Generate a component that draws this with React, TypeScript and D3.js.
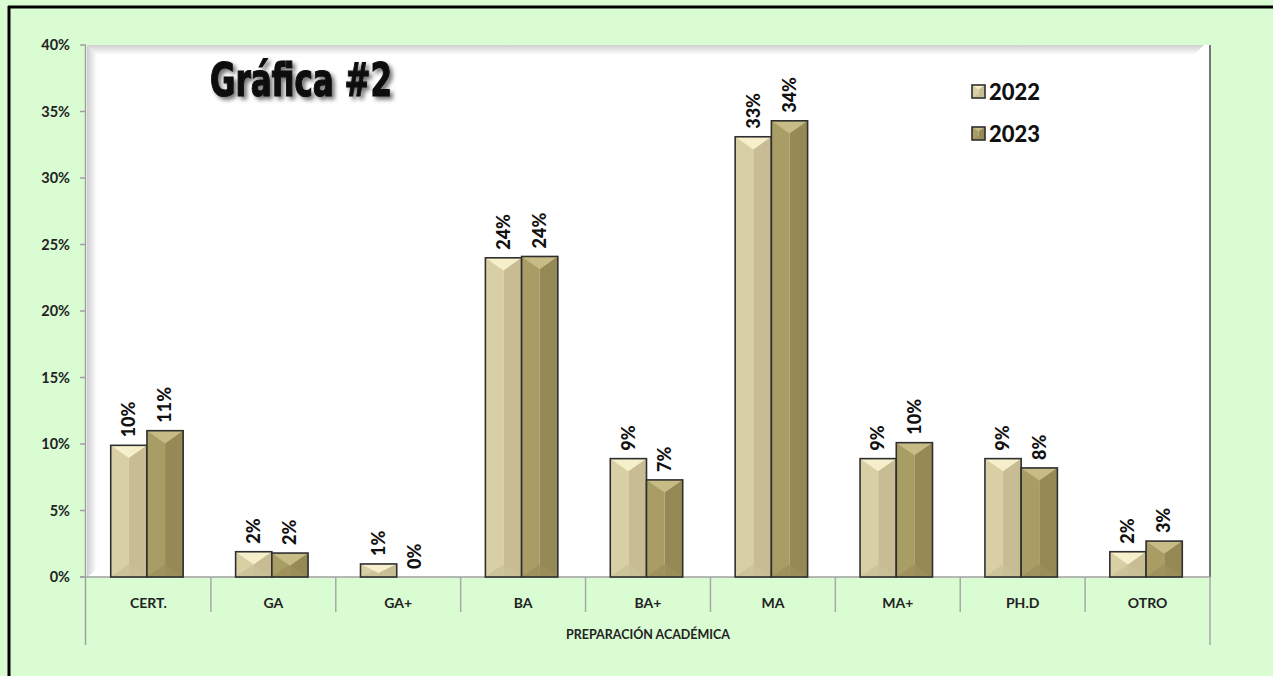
import React from 'react'
import * as d3 from 'd3'

const categories = ['CERT.', 'GA', 'GA+', 'BA', 'BA+', 'MA', 'MA+', 'PH.D', 'OTRO']
const years = ['2022', '2023']
const values2022 = [0.099, 0.019, 0.0098, 0.24, 0.089, 0.331, 0.089, 0.089, 0.019]
const values2023 = [0.11, 0.018, 0, 0.241, 0.073, 0.343, 0.101, 0.082, 0.027]
const yTicks = [0, 0.05, 0.1, 0.15, 0.2, 0.25, 0.3, 0.35, 0.4]
const axisTitle = 'PREPARACIÓN ACADÉMICA'
const chartTitle = 'Gráfica #2'

const W = 1273
const H = 676
const plot = { left: 86, right: 1210, top: 45, bottom: 577 }
const font = 'Lato, "Open Sans", sans-serif'

// colores de cada serie: top, left, right, bottom
const palette: Record<string, { top: string; left: string; right: string; bottom: string }> = {
  '2022': { top: '#f6efcb', left: '#d9cfa4', right: '#c7bc93', bottom: '#cbc198' },
  '2023': { top: '#c8bc86', left: '#a99d66', right: '#958955', bottom: '#9c905b' }
}

function BevelBar({ x, y, w, h, year }: { x: number; y: number; w: number; h: number; year: string }) {
  if (h <= 0.5) return null
  const c = palette[year]
  const b = Math.min(w / 2, h) * 0.7
  const cx = x + w / 2
  return (
    <g>
      <rect x={x} y={y} width={w / 2} height={h} fill={c.left} />
      <rect x={cx} y={y} width={w / 2} height={h} fill={c.right} />
      <polygon points={`${x},${y + h} ${x + w},${y + h} ${cx},${y + h - b}`} fill={c.bottom} opacity={0.8} />
      <polygon points={`${x},${y} ${x + w},${y} ${cx},${y + b}`} fill={c.top} />
      <rect x={x} y={y} width={w} height={h} fill="none" stroke="#2f2f2f" strokeWidth={1.6} />
    </g>
  )
}

export default function App() {
  const x0 = d3.scaleBand<string>().domain(categories).range([plot.left, plot.right]).padding(0)
  const band = x0.bandwidth()
  const barW = band * 0.29
  const x1 = d3.scaleBand<string>().domain(years).range([0, barW * 2]).padding(0)
  const y = d3.scaleLinear().domain([0, 0.4]).range([plot.bottom, plot.top])
  const fmt = d3.format('.0%')
  const series: Record<string, number[]> = { '2022': values2022, '2023': values2023 }

  return (
    <div style={{ position: 'absolute', left: 0, top: 0 }}>
      <svg width={W} height={H} style={{ display: 'block' }}>
        <defs>
          <linearGradient id="wallLeft" x1="0" x2="1" y1="0" y2="0">
            <stop offset="0" stopColor="#cfcfcf" />
            <stop offset="1" stopColor="#ffffff" />
          </linearGradient>
          <linearGradient id="wallTop" x1="0" x2="0" y1="0" y2="1">
            <stop offset="0" stopColor="#cfcfcf" />
            <stop offset="1" stopColor="#ffffff" />
          </linearGradient>
          <filter id="titleShadow" x="-20%" y="-30%" width="140%" height="170%">
            <feDropShadow dx="3" dy="3" stdDeviation="2" floodColor="#000" floodOpacity="0.55" />
          </filter>
        </defs>

        <rect x={0} y={0} width={W} height={H} fill="#dafcd3" />
        <line x1={8} x2={W} y1={7} y2={7} stroke="#000" strokeWidth={3} />
        <line x1={9} x2={9} y1={6} y2={H} stroke="#000" strokeWidth={3} />

        {/* area de trazado */}
        <rect x={plot.left} y={plot.top} width={plot.right - plot.left} height={plot.bottom - plot.top} fill="#fff" />
        <polygon
          points={`${plot.left + 1},${plot.top} ${plot.right - 6},${plot.top} ${plot.right - 16},${plot.top + 10} ${plot.left + 11},${plot.top + 10}`}
          fill="url(#wallTop)"
        />
        <polygon
          points={`${plot.left + 1},${plot.top} ${plot.left + 11},${plot.top + 10} ${plot.left + 11},${plot.bottom - 8} ${plot.left + 1},${plot.bottom}`}
          fill="url(#wallLeft)"
        />
        <line x1={plot.right} x2={plot.right} y1={plot.top} y2={plot.bottom} stroke="#777" strokeWidth={2} />

        {/* eje Y */}
        <line x1={plot.left - 0.5} x2={plot.left - 0.5} y1={plot.top} y2={645} stroke="#a0a0a0" strokeWidth={1.5} />
        {yTicks.map(t => (
          <g key={t}>
            <line x1={plot.left - 6} x2={plot.left} y1={y(t)} y2={y(t)} stroke="#a0a0a0" strokeWidth={1.5} />
            <text x={plot.left - 16} y={y(t)} dy="0.35em" textAnchor="end" fontFamily={font} fontWeight="bold" fontSize={14.5} fill="#222">
              {fmt(t)}
            </text>
          </g>
        ))}

        {/* eje X */}
        <line x1={plot.left - 6} x2={plot.right} y1={plot.bottom} y2={plot.bottom} stroke="#a0a0a0" strokeWidth={1.5} />
        {categories.map((c, i) => {
          const bx = x0(c)!
          return (
            <g key={c}>
              {i > 0 && <line x1={bx} x2={bx} y1={plot.bottom} y2={612} stroke="#a8a8a8" strokeWidth={1.5} />}
              <text x={bx + band / 2} y={603} dy="0.35em" textAnchor="middle" fontFamily={font} fontWeight="bold" fontSize={14} fill="#222">
                {c}
              </text>
            </g>
          )
        })}
        <line x1={plot.right} x2={plot.right} y1={plot.bottom} y2={645} stroke="#a8a8a8" strokeWidth={1.5} />
        <text x={(plot.left + plot.right) / 2} y={635} dy="0.35em" textAnchor="middle" fontFamily={font} fontWeight="bold" fontSize={12.5} fill="#222">
          {axisTitle}
        </text>

        {/* barras */}
        {categories.map((c, i) => {
          const gx = x0(c)! + (band - barW * 2) / 2 - 1.5
          return (
            <g key={c}>
              {years.map(yr => {
                const v = series[yr][i]
                const bx = gx + x1(yr)!
                const by = y(v)
                return (
                  <g key={yr}>
                    <BevelBar x={bx} y={by} w={barW} h={plot.bottom - by} year={yr} />
                    <text
                      transform={`translate(${bx + barW / 2},${by - 8}) rotate(-90)`}
                      dy="0.35em"
                      textAnchor="start"
                      fontFamily={font}
                      fontWeight="900"
                      fontSize={18}
                      fill="#111"
                    >
                      {fmt(v)}
                    </text>
                  </g>
                )
              })}
            </g>
          )
        })}

        {/* titulo */}
        <text
          x={210}
          y={96}
          textLength={182}
          lengthAdjust="spacingAndGlyphs"
          fontFamily='"DejaVu Sans Condensed", "DejaVu Sans", sans-serif'
          fontWeight="bold"
          fontSize={47}
          fill="#0a0a0a"
          stroke="#0a0a0a"
          strokeWidth={1.2}
          filter="url(#titleShadow)"
        >
          {chartTitle}
        </text>

        {/* leyenda */}
        {years.map((yr, i) => {
          const ly = 85 + i * 42
          return (
            <g key={yr}>
              <BevelBar x={972} y={ly} w={13} h={13} year={yr} />
              <text x={989} y={ly + 7} dy="0.35em" fontFamily={font} fontWeight="900" fontSize={22} fill="#111">
                {yr}
              </text>
            </g>
          )
        })}
      </svg>
    </div>
  )
}
